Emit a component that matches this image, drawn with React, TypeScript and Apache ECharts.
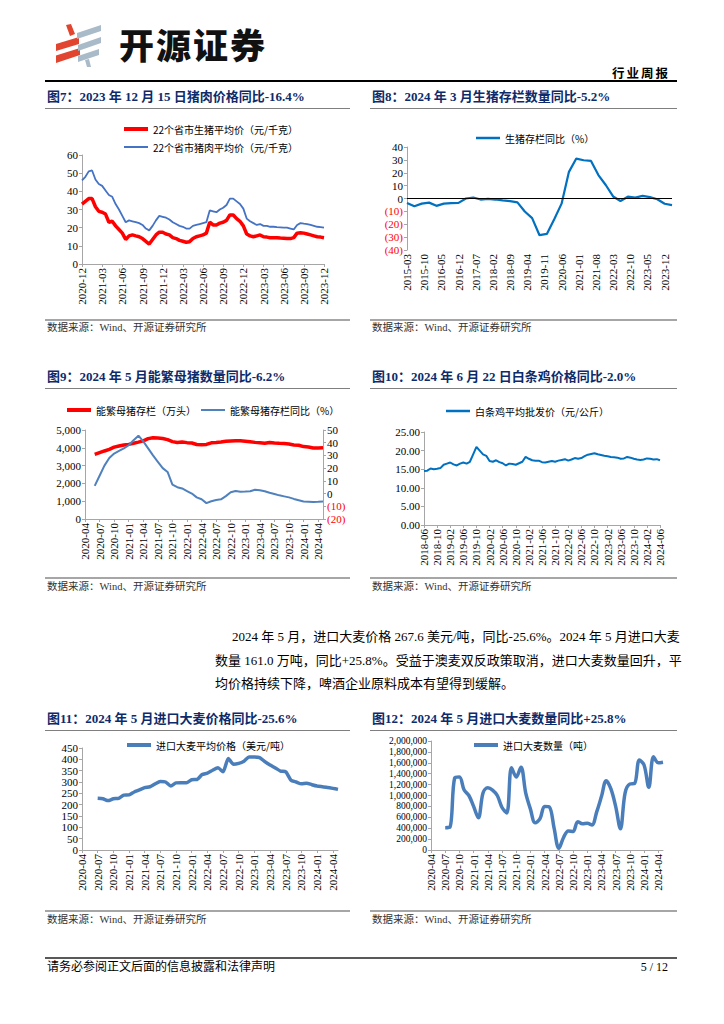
import React, { useEffect, useRef } from "react";
import * as echarts from "echarts";

// ---------------- data ----------------
function monthRange(start: string, end: string): string[] {
  const out: string[] = [];
  let [y, m] = start.split("-").map(Number);
  const [ey, em] = end.split("-").map(Number);
  while (y < ey || (y === ey && m <= em)) {
    out.push(`${y}-${String(m).padStart(2, "0")}`);
    m++;
    if (m > 12) { m = 1; y++; }
  }
  return out;
}

// Fig 7: semi-monthly hog / pork prices, 2020-12 .. 2023-12
const hogMonths = monthRange("2020-12", "2023-12");
const hogDates = hogMonths.flatMap((m, i) => (i < hogMonths.length - 1 ? [m + "-01", m + "-16"] : [m + "-01"]));
const hogLive = [
  33.0, 34.5, 36.0, 36.0, 31.5, 29.0, 28.5, 27.5, 23.0, 23.5,
  21.0, 19.0, 17.0, 13.5, 15.5, 16.0, 15.5, 15.0, 14.0, 12.5,
  11.0, 13.5, 16.0, 17.5, 17.5, 16.5, 16.0, 14.5, 14.0, 13.0,
  12.5, 12.0, 12.3, 14.0, 15.0, 15.5, 16.0, 17.0, 23.0, 21.5,
  21.5, 22.5, 23.0, 24.0, 27.0, 27.0, 25.0, 23.5, 21.0, 16.5,
  15.5, 15.0, 15.5, 16.0, 15.0, 14.8, 14.5, 14.5, 14.5, 14.3,
  14.2, 14.0, 14.0, 14.5, 17.0, 17.2, 17.0, 16.5, 16.0, 15.5,
  15.0, 14.8, 14.5,
];
const hogPork = [
  46.0, 48.0, 51.0, 51.5, 46.5, 44.0, 43.0, 40.5, 38.0, 37.0,
  33.0, 30.0, 26.5, 23.0, 24.0, 23.5, 23.0, 22.5, 21.5, 19.5,
  18.5, 21.0, 24.0, 26.5, 26.0, 25.5, 24.5, 23.0, 22.0, 21.0,
  20.5, 19.5, 19.5, 21.0, 21.5, 22.0, 22.5, 23.0, 29.5, 29.0,
  28.5, 30.0, 31.0, 32.5, 36.0, 36.0, 34.5, 33.0, 30.5, 25.0,
  23.5, 22.5, 21.5, 22.0, 21.0, 21.0, 20.5, 20.5, 20.3, 20.2,
  20.0, 20.0, 19.5, 19.0, 21.5, 22.5, 22.2, 22.0, 21.5, 21.0,
  20.5, 20.3, 20.0,
];

// Fig 8: quarterly hog inventory YoY (%)
const stockMonths = monthRange("2015-03", "2024-03");
const stockQuarters = [
  "2015-03", "2015-06", "2015-09", "2015-12", "2016-03", "2016-06", "2016-09", "2016-12",
  "2017-03", "2017-06", "2017-09", "2017-12", "2018-03", "2018-06", "2018-09", "2018-12",
  "2019-03", "2019-06", "2019-09", "2019-12", "2020-03", "2020-06", "2020-09", "2020-12",
  "2021-03", "2021-06", "2021-09", "2021-12", "2022-03", "2022-06", "2022-09", "2022-12",
  "2023-03", "2023-06", "2023-09", "2023-12", "2024-03",
];
const stockYoY = [
  -3.5, -6.0, -4.0, -3.2, -5.7, -4.0, -3.6, -3.4,
  0.0, 0.8, -0.8, -0.3, -0.8, -1.5, -2.0, -3.0,
  -10.1, -15.2, -28.5, -27.5, -16.1, -4.0, 20.7, 31.0,
  29.7, 29.2, 18.2, 10.5, 1.6, -1.9, 1.4, 0.7,
  2.0, 1.1, -0.6, -4.1, -5.2,
];

// Fig 9: breeding sows, 2020-06 .. 2024-05
const sowAxisMonths = monthRange("2020-04", "2024-05");
const sowMonths = monthRange("2020-06", "2024-05");
const sowStock = [
  3629, 3728, 3822, 3913, 4037, 4100, 4161,
  4193, 4254, 4318, 4390, 4516, 4564, 4545, 4523, 4459, 4348, 4296, 4329,
  4290, 4268, 4185, 4177, 4192, 4277, 4298, 4324, 4362, 4379, 4394, 4390,
  4367, 4343, 4305, 4284, 4258, 4296, 4270, 4252, 4240, 4210, 4158, 4142,
  4067, 4042, 3992, 3986, 3996,
];
const sowYoY = [
  6, 14, 22, 28, 31.5, 33.5, 35.5,
  38, 42, 45.5, 41, 35.5, 30, 25, 20, 17, 7, 5, 4,
  2, 0, -3, -4.5, -7.5, -6, -5, -4.5, -2, 1, 2, 1.5,
  1.6, 1.8, 3, 2.6, 1.8, 0.6, -0.3, -1.4, -2.2, -3, -4.2, -5.2,
  -6.2, -6.4, -6.6, -6.5, -6.2,
];

// Fig 10: broiler wholesale price, 2018-06 .. 2024-06
const chickenMonths = monthRange("2018-06", "2024-06");
const chickenPrice = [
  14.5, 14.6, 15.2, 15.0, 15.1, 15.3, 16.2,
  16.5, 16.8, 16.3, 16.0, 16.5, 16.8, 16.5, 17.0, 19.0, 21.0, 20.0, 19.0,
  18.6, 17.2, 17.0, 17.4, 16.9, 16.6, 16.0, 16.5, 16.4, 16.2, 16.6, 17.0,
  18.3, 17.8, 17.4, 17.3, 17.3, 16.9, 16.8, 17.0, 17.2, 17.0, 17.3, 17.5,
  17.7, 17.3, 17.6, 18.0, 17.8, 18.0, 18.5, 18.9, 19.1, 19.3, 19.0, 18.8,
  18.6, 18.5, 18.3, 18.2, 18.1, 17.8, 17.9, 18.3, 18.1, 17.8, 17.6, 17.5,
  17.6, 17.9, 17.8, 17.6, 17.7, 17.4,
];

// Fig 11 / 12: imported barley, 2020-07 .. 2024-05
const barleyAxisMonths = monthRange("2020-04", "2024-05");
const barleyMonths = monthRange("2020-07", "2024-05");
const barleyPrice = [
  228, 226, 218, 226, 228, 242,
  243, 256, 265, 275, 279, 292, 302, 300, 282, 296, 297, 297,
  310, 311, 333, 339, 352, 363, 345, 404, 378, 382, 392, 410,
  410, 408, 390, 375, 362, 348, 345, 308, 300, 292, 295, 288,
  282, 279, 276, 272, 267.6,
];
const barleyQty = [
  410000, 420000, 1320000, 1340000, 1100000, 1000000,
  800000, 590000, 1050000, 1140000, 1100000, 1000000, 780000, 680000, 1510000, 1340000, 1520000, 1050000,
  750000, 500000, 570000, 800000, 790000, 400000, 30000, 230000, 350000, 340000, 520000, 480000,
  490000, 460000, 700000, 980000, 1270000, 1120000, 800000, 390000, 1050000, 1210000, 1220000, 1650000,
  1560000, 1150000, 1710000, 1600000, 1610000,
];

// ---------------- styles ----------------
const SERIF = "'Liberation Serif', 'Times New Roman', serif";
const MIX = "'Liberation Serif', 'Noto Sans CJK SC', serif";
const CJK = "'Noto Sans CJK SC', sans-serif";
const GREY = "#A6A6A6";
const NAVY = "#0D2B6B";

const axisLine = { show: true, onZero: false, lineStyle: { color: GREY, width: 1 } };
const tickBase = { show: true, length: 3, lineStyle: { color: GREY } };
const lab = { color: "#000", fontFamily: SERIF, fontSize: 11 };
const legendText = { color: "#000", fontFamily: CJK, fontSize: 10 };
const negRich = { n: { color: "#FF0000", fontFamily: SERIF, fontSize: 11 } };
const negFmt = (v: number) => (v < 0 ? `{n|(${Math.abs(v)})}` : String(v));

function catAxis(gridIndex: number, data: string[], every: number, extra: any = {}) {
  return {
    gridIndex,
    type: "category",
    data,
    boundaryGap: false,
    axisLine,
    axisTick: { ...tickBase, interval: (i: number) => i % every === 0 },
    axisLabel: {
      ...lab,
      rotate: 90,
      margin: 4,
      interval: (i: number) => i % every === 0,
      formatter: (v: string) => v.slice(0, 7),
    },
    splitLine: { show: false },
    ...extra,
  };
}
function valAxis(gridIndex: number, min: number, max: number, interval: number, labelExtra: any = {}, extra: any = {}) {
  return {
    gridIndex,
    type: "value",
    min,
    max,
    interval,
    axisLine: { show: true, lineStyle: { color: GREY, width: 1 } },
    axisTick: { ...tickBase },
    axisLabel: { ...lab, margin: 4, showMinLabel: true, showMaxLabel: true, hideOverlap: false, ...labelExtra },
    splitLine: { show: false },
    ...extra,
  };
}
function pairs(months: string[], vals: number[]) {
  return vals.map((v, i) => [months[i], v]);
}
function leg(left: number, top: number, name: string, thick: number) {
  return {
    left, top, icon: "rect", itemWidth: 24, itemHeight: thick, selectedMode: false,
    textStyle: legendText, data: [name],
  };
}

const RED = "#E2452F";
const LOGO_GREY = "#A9BBC8";

function buildOption(): any {
  return {
    animation: false,
    backgroundColor: "transparent",
    grid: [
      { left: 82, top: 155, width: 242, height: 109 },
      { left: 407, top: 147, width: 265, height: 103 },
      { left: 85, top: 430, width: 238, height: 89 },
      { left: 424, top: 432, width: 236, height: 93 },
      { left: 82, top: 748, width: 256, height: 102 },
      { left: 431, top: 741, width: 232, height: 109 },
    ],
    legend: [
      leg(119, 119, "22个省市生猪平均价（元/千克）", 4),
      leg(119, 137, "22个省市猪肉平均价（元/千克）", 2),
      leg(471, 128, "生猪存栏同比（%）", 2.5),
      leg(62, 400, "能繁母猪存栏（万头）", 4),
      leg(196, 400, "能繁母猪存栏同比（%）", 2),
      leg(441, 401, "白条鸡平均批发价（元/公斤）", 2.5),
      leg(122, 735, "进口大麦平均价格（美元/吨）", 4),
      leg(469, 735, "进口大麦数量（吨）", 4),
    ],
    xAxis: [
      catAxis(0, hogDates, 6),
      catAxis(1, stockMonths, 7, { axisLine: { show: false }, axisTick: { show: false } }),
      catAxis(2, sowAxisMonths, 3),
      catAxis(3, chickenMonths, 4),
      catAxis(4, barleyAxisMonths, 3),
      catAxis(5, barleyAxisMonths, 3),
    ],
    yAxis: [
      valAxis(0, 0, 60, 10),
      valAxis(1, -40, 40, 10, { formatter: negFmt, rich: negRich }),
      valAxis(2, 0, 5000, 1000, { formatter: (v: number) => v.toLocaleString("en-US") }),
      valAxis(2, -20, 50, 10, { formatter: negFmt, rich: negRich }, { position: "right" }),
      valAxis(3, 0, 25, 5, { formatter: (v: number) => v.toFixed(2) }),
      valAxis(4, 0, 450, 50),
      valAxis(5, 0, 2000000, 200000, {
        fontSize: 9.5, formatter: (v: number) => v.toLocaleString("en-US"),
      }),
    ],
    series: [
      {
        type: "line", name: "22个省市生猪平均价（元/千克）", xAxisIndex: 0, yAxisIndex: 0,
        data: hogLive, symbol: "none", lineStyle: { color: "#FF0000", width: 3.5 }, itemStyle: { color: "#FF0000" },
      },
      {
        type: "line", name: "22个省市猪肉平均价（元/千克）", xAxisIndex: 0, yAxisIndex: 0,
        data: hogPork, symbol: "none", lineStyle: { color: "#4472C4", width: 1.8 }, itemStyle: { color: "#4472C4" },
      },
      {
        type: "line", name: "生猪存栏同比（%）", xAxisIndex: 1, yAxisIndex: 1,
        data: pairs(stockQuarters, stockYoY), symbol: "none",
        lineStyle: { color: "#0070C0", width: 2.2 }, itemStyle: { color: "#0070C0" },
        markLine: {
          silent: true, symbol: ["none", "none"], label: { show: false },
          lineStyle: { color: "#000", width: 1, type: "solid" }, data: [{ yAxis: 0 }],
        },
      },
      {
        type: "line", name: "能繁母猪存栏（万头）", xAxisIndex: 2, yAxisIndex: 2,
        data: pairs(sowMonths, sowStock), symbol: "none",
        lineStyle: { color: "#FF0000", width: 3.5 }, itemStyle: { color: "#FF0000" },
      },
      {
        type: "line", name: "能繁母猪存栏同比（%）", xAxisIndex: 2, yAxisIndex: 3,
        data: pairs(sowMonths, sowYoY), symbol: "none",
        lineStyle: { color: "#4F81BD", width: 2 }, itemStyle: { color: "#4F81BD" },
      },
      {
        type: "line", name: "白条鸡平均批发价（元/公斤）", xAxisIndex: 3, yAxisIndex: 4,
        data: chickenPrice, symbol: "none",
        lineStyle: { color: "#0070C0", width: 2 }, itemStyle: { color: "#0070C0" },
      },
      {
        type: "line", name: "进口大麦平均价格（美元/吨）", xAxisIndex: 4, yAxisIndex: 5,
        data: pairs(barleyMonths, barleyPrice), symbol: "none", smooth: 0.2,
        lineStyle: { color: "#4A7EBB", width: 3.5 }, itemStyle: { color: "#4A7EBB" },
      },
      {
        type: "line", name: "进口大麦数量（吨）", xAxisIndex: 5, yAxisIndex: 6,
        data: pairs(barleyMonths, barleyQty), symbol: "none", smooth: 0.35,
        lineStyle: { color: "#4A7EBB", width: 3.5 }, itemStyle: { color: "#4A7EBB" },
      },
    ],
    graphic: [
      { type: "polygon", shape: { points: [[66, 25], [71, 24], [75, 34], [70, 36]] }, style: { fill: RED } },
      { type: "polygon", shape: { points: [[56, 44], [79, 37], [79, 44], [56, 51]] }, style: { fill: RED } },
      { type: "polygon", shape: { points: [[56, 55.5], [80, 48], [80, 55], [56, 63]] }, style: { fill: RED } },
      { type: "polygon", shape: { points: [[77, 33], [101, 25], [101, 31], [77, 39]] }, style: { fill: LOGO_GREY } },
      { type: "polygon", shape: { points: [[78, 45], [101, 37], [101, 43], [78, 51]] }, style: { fill: LOGO_GREY } },
      { type: "polygon", shape: { points: [[78, 56], [99, 49], [99, 55], [78, 62]] }, style: { fill: LOGO_GREY } },
      { type: "polygon", shape: { points: [[85, 60], [89, 59], [91, 67], [87, 67]] }, style: { fill: LOGO_GREY } },
    ],
  };
}

// ---------------- page pieces ----------------
const abs = (s: React.CSSProperties): React.CSSProperties => ({ position: "absolute", whiteSpace: "nowrap", ...s });

function Title({ x, y, text }: { x: number; y: number; text: string }) {
  return (
    <div style={abs({ left: x, top: y - 9, height: 18, lineHeight: "18px", fontSize: 13, fontWeight: 700, color: NAVY, fontFamily: MIX })}>
      {text}
    </div>
  );
}
function HLine({ x, y, w, h, color }: { x: number; y: number; w: number; h: number; color: string }) {
  return <div style={abs({ left: x, top: y, width: w, height: h, background: color })} />;
}
function Source({ x, y }: { x: number; y: number }) {
  return (
    <div style={abs({ left: x, top: y - 7, height: 14, lineHeight: "14px", fontSize: 10.5, color: "#333", fontFamily: MIX })}>
      数据来源：Wind、开源证券研究所
    </div>
  );
}
function ParaLine({ x, y, w, text, justify }: { x: number; y: number; w: number; text: string; justify: boolean }) {
  return (
    <div
      style={abs({
        left: x, top: y - 9, width: w, height: 18, lineHeight: "18px", fontSize: 13, color: "#000", fontFamily: MIX,
        textAlign: justify ? "justify" : "left", textAlignLast: (justify ? "justify" : "left") as any,
      })}
    >
      {text}
    </div>
  );
}

const titles = [
  { x: 47, y: 97, text: "图7：2023 年 12 月 15 日猪肉价格同比-16.4%" },
  { x: 372, y: 97, text: "图8：2024 年 3 月生猪存栏数量同比-5.2%" },
  { x: 47, y: 377, text: "图9：2024 年 5 月能繁母猪数量同比-6.2%" },
  { x: 372, y: 377, text: "图10：2024 年 6 月 22 日白条鸡价格同比-2.0%" },
  { x: 47, y: 719, text: "图11：2024 年 5 月进口大麦价格同比-25.6%" },
  { x: 372, y: 719, text: "图12：2024 年 5 月进口大麦数量同比+25.8%" },
];
const paragraph = [
  "2024 年 5 月，进口大麦价格 267.6 美元/吨，同比-25.6%。2024 年 5 月进口大麦",
  "数量 161.0 万吨，同比+25.8%。受益于澳麦双反政策取消，进口大麦数量回升，平",
  "均价格持续下降，啤酒企业原料成本有望得到缓解。",
];

export default function App() {
  const ref = useRef<HTMLDivElement>(null);
  useEffect(() => {
    if (!ref.current) return;
    const chart = echarts.init(ref.current, undefined, { renderer: "svg" });
    chart.setOption(buildOption());
    return () => chart.dispose();
  }, []);

  return (
    <div style={{ position: "absolute", left: 0, top: 0, width: 724, height: 1024, background: "#fff", overflow: "hidden" }}>
      <div ref={ref} style={{ position: "absolute", left: 0, top: 0, width: 724, height: 1024 }} />
      {/* header */}
      <div style={abs({ left: 119, top: 24, height: 40, lineHeight: "40px", fontSize: 35, fontWeight: 900, letterSpacing: 2, color: "#111", fontFamily: CJK })}>
        开源证券
      </div>
      <div style={abs({ left: 612, top: 65, height: 16, lineHeight: "16px", fontSize: 12.5, fontWeight: 700, letterSpacing: 2, color: "#000", fontFamily: CJK })}>
        行业周报
      </div>
      <HLine x={45} y={80} w={632} h={1.5} color="#000" />

      {titles.map((t) => <Title key={t.text} {...t} />)}
      <HLine x={45} y={108} w={305} h={1.2} color="#7F7F7F" />
      <HLine x={370} y={108} w={307} h={1.2} color="#7F7F7F" />
      <HLine x={45} y={388} w={305} h={1.2} color="#7F7F7F" />
      <HLine x={370} y={388} w={307} h={1.2} color="#7F7F7F" />
      <HLine x={45} y={730} w={305} h={1.2} color="#7F7F7F" />
      <HLine x={370} y={730} w={307} h={1.2} color="#7F7F7F" />

      <HLine x={45} y={319} w={305} h={2} color={GREY} />
      <HLine x={370} y={319} w={307} h={2} color={GREY} />
      <Source x={47} y={328} />
      <Source x={372} y={328} />
      <HLine x={45} y={577} w={305} h={2} color={GREY} />
      <HLine x={370} y={577} w={307} h={2} color={GREY} />
      <Source x={47} y={587} />
      <Source x={372} y={587} />
      <HLine x={45} y={910} w={305} h={2} color={GREY} />
      <HLine x={370} y={910} w={307} h={2} color={GREY} />
      <Source x={47} y={920} />
      <Source x={372} y={920} />

      <ParaLine x={232} y={637} w={444} text={paragraph[0]} justify />
      <ParaLine x={215} y={661} w={461} text={paragraph[1]} justify />
      <ParaLine x={215} y={684} w={461} text={paragraph[2]} justify={false} />

      {/* footer */}
      <HLine x={45} y={957} w={632} h={2} color="#595959" />
      <div style={abs({ left: 47, top: 959, height: 16, lineHeight: "16px", fontSize: 12, color: "#000", fontFamily: MIX })}>
        请务必参阅正文后面的信息披露和法律声明
      </div>
      <div style={abs({ left: 620, top: 959, width: 48, textAlign: "right", height: 16, lineHeight: "16px", fontSize: 12, color: "#000", fontFamily: SERIF })}>
        5 / 12
      </div>
    </div>
  );
}
